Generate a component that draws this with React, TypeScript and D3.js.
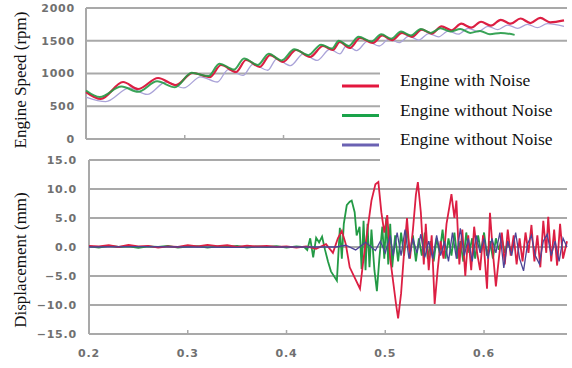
import React from "react";
import * as d3 from "d3";

// tick values
const speedTicks = [0, 500, 1000, 1500, 2000];
const dispTicks = [-15, -10, -5, 0, 5, 10, 15];
const timeTicks = [0.2, 0.3, 0.4, 0.5, 0.6];
const legendLabels = ["Engine with Noise", "Engine without Noise", "Engine without Noise"];

const redSpeed: [number, number][] = [
  [0.2, 717], [0.215, 611], [0.2375, 870], [0.2527, 763], [0.273, 931], [0.291, 824],
  [0.308, 1008], [0.3256, 946], [0.3367, 1130], [0.352, 1023], [0.362, 1206], [0.376, 1100],
  [0.3863, 1282], [0.3995, 1176], [0.4127, 1359], [0.4268, 1252], [0.44, 1420], [0.45, 1359],
  [0.457, 1481], [0.467, 1389], [0.4775, 1542], [0.4906, 1466], [0.5, 1580], [0.51, 1510],
  [0.52, 1620], [0.53, 1560], [0.54, 1670], [0.55, 1610], [0.56, 1720], [0.57, 1660],
  [0.58, 1760], [0.59, 1700], [0.6, 1790], [0.61, 1730], [0.62, 1820], [0.63, 1760],
  [0.64, 1840], [0.65, 1770], [0.66, 1850], [0.67, 1780], [0.684, 1810],
];
const greenSpeed: [number, number][] = [
  [0.2, 740], [0.214, 640], [0.236, 800], [0.253, 720], [0.272, 880], [0.29, 790],
  [0.307, 1010], [0.324, 960], [0.335, 1150], [0.35, 1060], [0.36, 1230], [0.374, 1130],
  [0.385, 1300], [0.398, 1200], [0.411, 1370], [0.425, 1280], [0.438, 1440], [0.449, 1380],
  [0.456, 1500], [0.466, 1420], [0.476, 1560], [0.489, 1490], [0.499, 1600], [0.509, 1530],
  [0.519, 1640], [0.529, 1580], [0.539, 1680], [0.549, 1620], [0.559, 1690], [0.569, 1640],
  [0.579, 1680], [0.589, 1620], [0.599, 1650], [0.609, 1600], [0.62, 1620], [0.634, 1590],
];
const purpleSpeed: [number, number][] = [
  [0.2, 640], [0.22, 570], [0.244, 780], [0.262, 680], [0.281, 870], [0.299, 780],
  [0.316, 950], [0.333, 870], [0.344, 1060], [0.359, 970], [0.369, 1140], [0.384, 1050],
  [0.393, 1220], [0.407, 1120], [0.42, 1300], [0.434, 1200], [0.447, 1370], [0.457, 1300],
  [0.464, 1430], [0.474, 1350], [0.485, 1490], [0.497, 1420], [0.507, 1530], [0.517, 1470],
  [0.527, 1570], [0.537, 1510], [0.547, 1610], [0.557, 1560], [0.567, 1650], [0.577, 1600],
  [0.587, 1690], [0.597, 1640], [0.607, 1720], [0.617, 1670], [0.627, 1740], [0.637, 1690],
  [0.647, 1750], [0.657, 1700], [0.667, 1760], [0.684, 1720],
];

// displacement (mm)
const redDisp: [number, number][] = [
  [0.2, 0.2], [0.21, 0.1], [0.22, 0.3], [0.23, 0], [0.24, 0.35], [0.25, 0.1], [0.26, 0.2],
  [0.27, -0.1], [0.28, 0.1], [0.29, 0], [0.3, 0.3], [0.31, 0.1], [0.32, 0.35], [0.33, 0.15],
  [0.34, 0.3], [0.35, 0], [0.36, 0.25], [0.37, 0.1], [0.38, 0.2], [0.39, 0], [0.4, 0.1],
  [0.41, -0.1], [0.42, 0.1], [0.43, -0.3], [0.44, 0.5], [0.447, -1.0], [0.452, 1.5],
  [0.456, 2.8], [0.46, 0.5], [0.464, -3.5], [0.4744, -7.2], [0.478, -2], [0.482, 3],
  [0.486, 8], [0.49, 10.8], [0.493, 11.2], [0.496, 6], [0.499, 2.5], [0.502, 5.5],
  [0.505, -2], [0.508, -6], [0.511, -10], [0.513, -12.3], [0.516, -8], [0.519, -1],
  [0.522, 5], [0.525, -2], [0.528, 3], [0.531, 9], [0.533, 11.2], [0.536, 6], [0.539, -3],
  [0.541, 4], [0.544, -4], [0.547, 2], [0.55, -9.8], [0.553, -4], [0.556, 1], [0.559, -2],
  [0.562, 4], [0.565, 7], [0.567, 9.1], [0.57, 5], [0.572, 8], [0.575, -3], [0.578, 3],
  [0.581, -5], [0.584, 2], [0.587, -4], [0.59, 3.5], [0.593, -1], [0.596, -4], [0.599, 2],
  [0.603, -7.2], [0.606, 5.9], [0.609, -1], [0.612, -6.8], [0.615, -2], [0.618, 2.5],
  [0.621, -3], [0.624, 3], [0.627, -1.5], [0.63, 2], [0.633, -3], [0.636, 1.5], [0.639, -2.5],
  [0.642, 2.5], [0.645, -1], [0.648, 3.8], [0.651, -2.5], [0.654, 2], [0.657, -3.5],
  [0.66, 4.5], [0.663, -1], [0.665, 5.2], [0.668, -2.5], [0.671, 3], [0.674, -3.2],
  [0.677, 4], [0.68, -2], [0.684, 1],
];
const greenDisp: [number, number][] = [
  [0.2, 0.1], [0.21, -0.1], [0.22, 0.2], [0.23, 0], [0.24, 0.1], [0.25, -0.15], [0.26, 0.1],
  [0.27, 0], [0.28, 0.2], [0.29, -0.1], [0.3, 0.05], [0.31, 0.15], [0.32, -0.1], [0.33, 0.1],
  [0.34, 0], [0.35, 0.2], [0.36, -0.1], [0.37, 0.1], [0.38, 0], [0.39, 0.15], [0.4, -0.1],
  [0.41, 0.1], [0.418, 0], [0.421, -0.5], [0.424, 1.5], [0.427, -1.8], [0.43, 1.6],
  [0.433, 0.8], [0.436, 1.8], [0.439, -0.5], [0.442, -2.5], [0.445, -4.2], [0.451, -5.8],
  [0.454, 3.3], [0.456, -2], [0.458, 4], [0.461, 7.2], [0.464, 7.8], [0.466, 8], [0.469, 6],
  [0.471, 2], [0.474, 3.5], [0.476, -3.8], [0.478, 4.5], [0.48, -4], [0.482, 4], [0.484, -3.5],
  [0.486, 3], [0.489, -4], [0.4915, -7.6], [0.494, -2], [0.497, 3.5], [0.499, -2], [0.501, 5],
  [0.503, -3], [0.505, 4], [0.507, -3.5], [0.51, 2], [0.513, -2.5], [0.516, 2.5], [0.519, -1.5],
  [0.522, 3], [0.525, -1], [0.528, 2], [0.531, -2.5], [0.534, 1.5], [0.537, -1.5], [0.54, 2.5],
  [0.543, -2], [0.546, 1], [0.549, -2.5], [0.552, 1.5], [0.555, -1], [0.558, 3], [0.561, -2],
  [0.564, 1.5], [0.567, -1.5], [0.57, 2.5], [0.573, -2], [0.576, 1], [0.579, -2.5],
  [0.582, 2.5], [0.585, -1], [0.588, 1.5], [0.591, -2], [0.594, 2], [0.597, -1], [0.6, 2.5],
  [0.603, -1.5], [0.606, 1], [0.609, -2], [0.612, 1.5], [0.615, -0.5], [0.618, 1.5],
  [0.621, -1], [0.624, 0.8], [0.627, -0.5], [0.63, 0.5],
];
const purpleDisp: [number, number][] = [
  [0.2, 0], [0.25, 0.05], [0.3, 0], [0.35, -0.05], [0.4, 0], [0.45, 0], [0.46, 0.3],
  [0.47, -0.5], [0.48, 0.8], [0.49, -0.6], [0.495, 1], [0.5, -1], [0.505, 2], [0.508, -1.5],
  [0.512, 2.5], [0.516, -1.5], [0.52, 3], [0.524, -2], [0.528, 1.5], [0.532, -1], [0.536, 2.2],
  [0.54, -1.8], [0.544, 1], [0.548, -2], [0.552, 2], [0.556, -1.5], [0.56, 1], [0.564, -2.5],
  [0.568, 2.5], [0.572, -2], [0.576, 3.2], [0.58, -1.5], [0.584, 1.5], [0.588, -2.5],
  [0.592, 2], [0.596, -1], [0.6, 1.5], [0.604, -2], [0.608, 1.5], [0.612, -1], [0.616, 2.5],
  [0.62, -3.6], [0.624, 1], [0.628, -1.5], [0.632, 2.5], [0.636, -2], [0.64, -4.1],
  [0.644, 0.5], [0.648, 2], [0.652, -1.5], [0.656, -2.9], [0.66, 1], [0.664, 2.2],
  [0.668, -1.5], [0.672, 1], [0.676, -2.5], [0.68, 1.5], [0.684, 0],
];

const W = 572;
const H = 368;
const gridColor = "#a9a9a9";
const tickFont = "DejaVu Sans, sans-serif";
const serif = "Liberation Serif, Times New Roman, serif";
const legendColors = ["#e3173e", "#1aa34a", "#6b62b3"];

const App = () => {
  // scales
  const xTop = d3.scaleLinear().domain([0.2, 0.684]).range([86, 564]);
  const yTop = d3.scaleLinear().domain([0, 2000]).range([139, 8]);
  const xBot = d3.scaleLinear().domain([0.2, 0.684]).range([89, 567]);
  const yBot = d3.scaleLinear().domain([-15, 15]).range([334, 160]);
  const fmt1 = d3.format(".1f");

  const topLine = d3
    .line<[number, number]>()
    .x((d) => xTop(d[0]))
    .y((d) => yTop(d[1]))
    .curve(d3.curveMonotoneX);
  const botLine = d3
    .line<[number, number]>()
    .x((d) => xBot(d[0]))
    .y((d) => yBot(d[1]));

  const tickProps = {
    fontFamily: tickFont,
    fontSize: 11,
    fontWeight: "bold" as const,
    letterSpacing: 0.8,
    fill: "#707070",
  };

  return (
    <svg
      width={W}
      height={H}
      style={{ position: "absolute", left: 0, top: 0, background: "#fff" }}
    >
      {/* top panel grid + axes */}
      {speedTicks.map((t) => (
        <line key={"tg" + t} x1={86} x2={567} y1={yTop(t)} y2={yTop(t)} stroke={gridColor} strokeWidth={2} />
      ))}
      <line x1={86} x2={86} y1={8} y2={139} stroke={gridColor} strokeWidth={2} />
      {timeTicks.slice(1).map((t) => (
        <line key={"tt" + t} x1={xTop(t)} x2={xTop(t)} y1={139} y2={135} stroke={gridColor} strokeWidth={1.5} />
      ))}
      {speedTicks.map((t) => (
        <text key={"tl" + t} x={75} y={yTop(t)} dy="0.36em" textAnchor="end" {...tickProps}>
          {t}
        </text>
      ))}

      {/* bottom panel grid + axes */}
      {dispTicks.map((t) => (
        <line key={"bg" + t} x1={89} x2={567} y1={yBot(t)} y2={yBot(t)} stroke={gridColor} strokeWidth={2} />
      ))}
      <line x1={89} x2={89} y1={160} y2={334} stroke={gridColor} strokeWidth={2} />
      {timeTicks.slice(1).map((t) => (
        <line key={"bt" + t} x1={xBot(t)} x2={xBot(t)} y1={334} y2={330} stroke={gridColor} strokeWidth={1.5} />
      ))}
      {dispTicks.map((t) => (
        <text key={"bl" + t} x={77} y={yBot(t)} dy="0.36em" textAnchor="end" {...tickProps}>
          {fmt1(t)}
        </text>
      ))}
      {timeTicks.map((t) => (
        <text key={"xl" + t} x={xBot(t)} y={357} textAnchor="middle" {...tickProps}>
          {fmt1(t)}
        </text>
      ))}

      {/* speed lines */}
      <path d={topLine(purpleSpeed) ?? ""} fill="none" stroke="#aaa3d8" strokeWidth={1.3} />
      <path d={topLine(redSpeed) ?? ""} fill="none" stroke="#dc1f43" strokeWidth={2.2} />
      <path d={topLine(greenSpeed) ?? ""} fill="none" stroke="#239a45" strokeWidth={2} opacity={0.9} />

      {/* displacement lines */}
      <path d={botLine(greenDisp) ?? ""} fill="none" stroke="#239a45" strokeWidth={1.8} />
      <path d={botLine(redDisp) ?? ""} fill="none" stroke="#dc1f43" strokeWidth={1.8} />
      <path d={botLine(purpleDisp) ?? ""} fill="none" stroke="#4d4496" strokeWidth={1.3} />

      {/* legend box */}
      <rect x={380} y={58} width={192} height={108} fill="#fff" />
      {legendLabels.map((lab, i) => (
        <g key={"lg" + i}>
          <line x1={342} x2={379} y1={86 + i * 29.5} y2={86 + i * 29.5} stroke={legendColors[i]} strokeWidth={3} />
          <text x={400} y={86 + i * 29.5} fontFamily={serif} fontSize={17.5} fill="#111">
            {lab}
          </text>
        </g>
      ))}

      {/* axis titles */}
      <text transform="translate(26,80) rotate(-90)" textAnchor="middle" fontFamily={serif} fontSize={17} fill="#111">
        Engine Speed (rpm)
      </text>
      <text transform="translate(26,260) rotate(-90)" textAnchor="middle" fontFamily={serif} fontSize={17} fill="#111">
        Displacement (mm)
      </text>
    </svg>
  );
};

export default App;
